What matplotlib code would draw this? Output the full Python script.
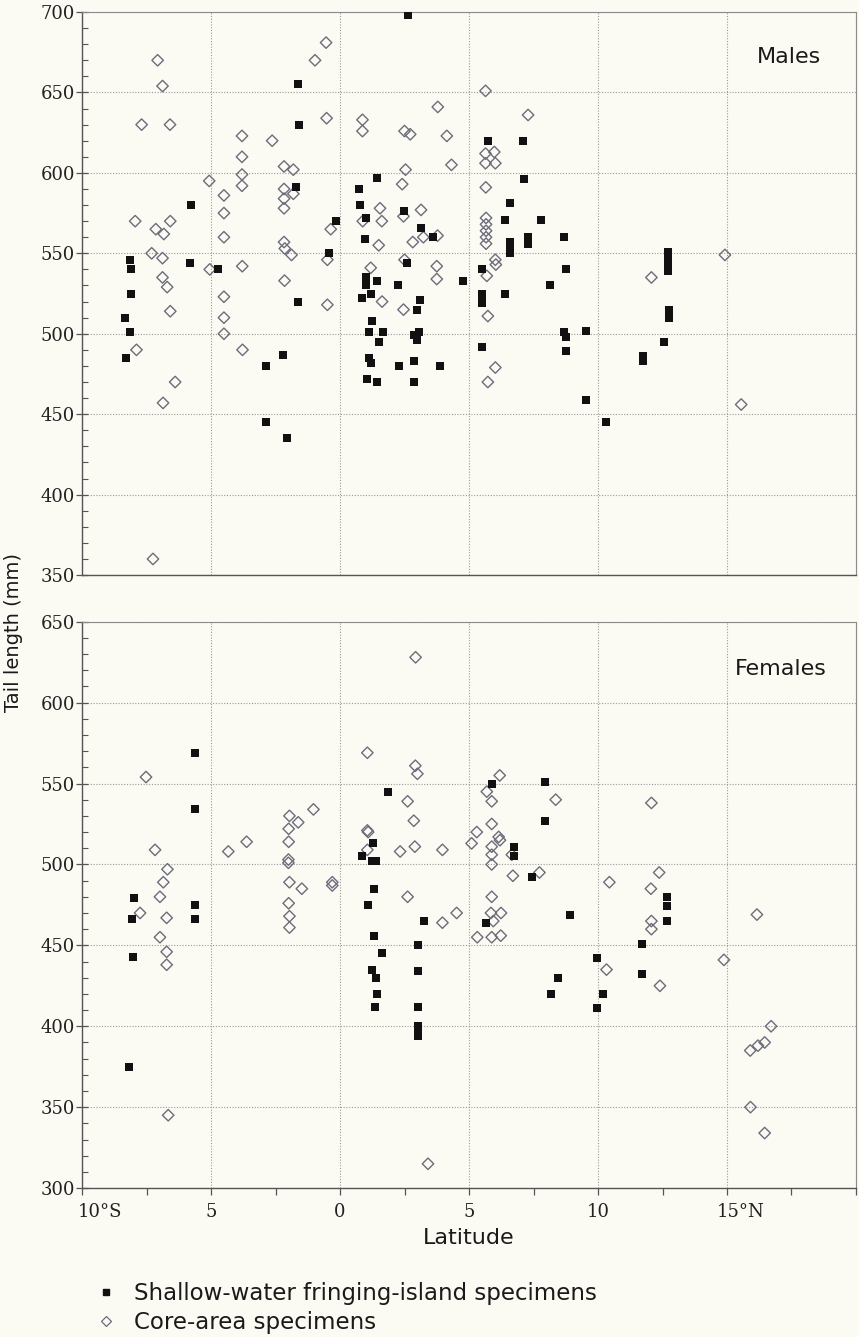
import matplotlib
matplotlib.use("Agg")
from matplotlib import pyplot as plt
from matplotlib.lines import Line2D
from matplotlib.ticker import MultipleLocator
from matplotlib.transforms import ScaledTranslation

plt.rcParams['font.family'] = ['DejaVu Serif']

# --- males: shallow-water fringing-island specimens
m_shallow_lat = [-8.15, -8.09, -8.09, -8.32, -8.15, -8.31,
                 -5.77, -5.8, -4.74, -2.85, -2.85, -2.05, -2.22,
                 -1.63, -1.6, -1.71, -1.63, -0.16, -0.41,
                 0.74, 0.76, 1.01, 0.97, 1.01, 1.01, 1.45, 1.42, 1.19, 0.84,
                 1.23, 1.14, 1.68, 1.5, 1.14, 1.19, 1.06, 1.42,
                 2.25, 2.48, 2.59, 2.63, 3.13, 3.11, 2.98, 2.85, 3.0, 3.05,
                 2.85, 2.28, 2.85, 3.62, 3.86,
                 4.76, 5.51, 5.51, 5.51, 5.51, 5.52, 5.73,
                 6.39, 6.39, 6.57, 6.6, 6.6, 6.6,
                 7.09, 7.12, 7.28, 7.28, 7.78,
                 8.69, 8.75, 8.15, 8.7, 8.75, 8.77,
                 9.55, 9.55, 10.31,
                 11.73, 11.73, 12.55, 12.72, 12.72, 12.72, 12.72, 12.75, 12.75]
m_shallow_tail = [546, 540, 525, 510, 501, 485,
                  580, 544, 540, 480, 445, 435, 487,
                  655, 630, 591, 520, 570, 550,
                  590, 580, 572, 559, 535, 530, 533, 597, 525, 522,
                  508, 501, 501, 495, 485, 482, 472, 470,
                  530, 576, 544, 698, 566, 521, 515, 499, 496, 501,
                  483, 480, 470, 560, 480,
                  533, 540, 525, 522, 519, 492, 620,
                  525, 571, 581, 557, 553, 550,
                  620, 596, 560, 556, 571,
                  560, 540, 530, 501, 498, 489,
                  502, 459, 445,
                  486, 483, 495, 551, 547, 543, 539, 515, 510]

# --- males: core-area specimens
m_core_lat = [-0.54, -0.97, -7.07, -6.88, -7.69, -6.59, -0.52, -3.8, -2.63, -3.8,
              -2.17, -1.81, -3.8, -3.8, -5.07, -4.5, -2.17, -1.81, -2.17, -2.17,
              -4.5, -7.94, -6.58, -7.14, -6.83, -4.5, -0.36, -2.17, -2.14, -1.88,
              -0.49, -7.3, -6.88, -5.05, -3.79, -6.88, -2.15, -6.7, -4.5, -0.49,
              -6.58, -4.5, -4.5, -7.89, -3.78, -6.39, -6.86, -7.25,
              5.64, 3.79, 7.29, 0.87, 0.87, 2.5, 2.72, 4.14, 5.64, 5.98,
              5.64, 6.02, 4.32, 2.54, 2.41, 5.65, 1.55, 3.14, 0.88, 1.62,
              2.46, 5.66, 5.66, 5.66, 5.66, 5.66, 1.5, 2.82, 3.23, 3.78,
              6.02, 6.04, 5.69, 1.19, 2.5, 3.75, 3.75, 1.63, 2.46, 5.73,
              6.02, 5.73,
              12.07, 14.92, 15.55]
m_core_tail = [681, 670, 670, 654, 630, 630, 634, 623, 620, 610,
               604, 602, 599, 592, 595, 586, 590, 587, 584, 578,
               575, 570, 570, 565, 562, 560, 565, 557, 553, 549,
               546, 550, 547, 540, 542, 535, 533, 529, 523, 518,
               514, 510, 500, 490, 490, 470, 457, 360,
               651, 641, 636, 633, 626, 626, 624, 623, 612, 613,
               606, 606, 605, 602, 593, 591, 578, 577, 570, 570,
               573, 572, 568, 564, 560, 556, 555, 557, 560, 561,
               546, 543, 536, 541, 546, 542, 534, 520, 515, 511,
               479, 470,
               535, 549, 456]

# --- females: shallow-water fringing-island specimens
f_shallow_lat = [-5.63, -5.62, -7.97, -5.62, -8.05, -5.62, -8.04, -8.17,
                 5.9, 7.93, 1.86, 7.93, 1.29, 0.85, 1.23, 1.4, 6.74, 6.74, 7.43,
                 1.31, 1.1,
                 3.26, 5.66, 8.9, 1.33, 3.01, 1.63, 1.23, 1.4, 3.02, 1.43, 1.36,
                 3.02, 3.02, 3.02, 3.02,
                 9.95, 8.44, 8.17, 10.19, 9.97,
                 12.69, 12.69, 12.69, 11.69, 11.69]
f_shallow_tail = [569, 534, 479, 475, 466, 466, 443, 375,
                  550, 551, 545, 527, 513, 505, 502, 502, 511, 505, 492,
                  485, 475,
                  465, 464, 469, 456, 450, 445, 435, 430, 434, 420, 412,
                  412, 400, 397, 394,
                  442, 430, 420, 420, 411,
                  480, 474, 465, 451, 432]

# --- females: core-area specimens
f_core_lat = [-7.52, -1.03, -1.96, -1.62, -1.99, -1.99, -3.62, -4.33, -7.17, -2.0,
              -2.0, -6.69, -6.85, -1.96, -1.48, -0.3, -0.3, -6.98, -1.99, -7.75,
              -6.72, -1.96, -1.96, -6.98, -6.72, -6.72, -6.66,
              2.93, 1.06, 2.92, 3.0, 6.19, 5.69, 5.88, 8.36, 2.62, 2.86,
              5.88, 1.06, 1.09, 5.3, 6.15, 6.2, 5.1, 2.9, 2.33, 3.97,
              5.88, 5.88, 5.88, 1.06, 6.7, 7.73, 6.66, 2.62, 5.88, 10.44,
              4.52, 3.97, 5.85, 5.94, 6.24, 5.32, 5.88, 6.23, 10.33, 3.41,
              12.07, 12.37, 12.05, 12.07, 12.07, 12.4, 16.16, 14.88, 16.71, 16.46,
              16.2, 15.9, 15.91, 16.46]
f_core_tail = [554, 534, 530, 526, 522, 514, 514, 508, 509, 503,
               501, 497, 489, 489, 485, 489, 487, 480, 476, 470,
               467, 468, 461, 455, 446, 438, 345,
               628, 569, 561, 556, 555, 545, 539, 540, 539, 527,
               525, 521, 520, 520, 517, 515, 513, 511, 508, 509,
               511, 506, 500, 509, 493, 495, 506, 480, 480, 489,
               470, 464, 470, 465, 470, 455, 455, 456, 435, 315,
               538, 495, 485, 465, 460, 425, 469, 441, 400, 390,
               388, 385, 350, 334]

paper = "#fbfbf3"
ink = "#111111"
diamond_edge = "#6c6c7c"
sans = ["DejaVu Sans"]
text_col = "#1a1a1a"

fig = plt.figure(figsize=(8.59, 13.37), dpi=100, facecolor=paper)
ax_m = fig.add_axes([0.0955, 0.5699, 0.901, 0.4211])
ax_f = fig.add_axes([0.0955, 0.1114, 0.901, 0.4236])


def setup(ax, ylo, yhi):
    ax.set_facecolor(paper)
    ax.set_xlim(-10, 20)
    ax.set_ylim(ylo, yhi)
    ax.xaxis.set_major_locator(MultipleLocator(5))
    ax.xaxis.set_minor_locator(MultipleLocator(2.5))
    ax.yaxis.set_major_locator(MultipleLocator(50))
    ax.yaxis.set_minor_locator(MultipleLocator(10))
    ax.grid(True, which="major", linestyle=(0, (1, 1.5)), color="#9a9a9a", linewidth=0.8)
    ax.set_axisbelow(True)
    ax.tick_params(axis="y", which="major", direction="inout", length=8, width=0.9,
                   color="#555555", labelsize=13, pad=1, labelcolor="#222222")
    ax.tick_params(axis="y", which="minor", direction="in", length=4, width=0.8, color="#555555")
    for side in ["left", "bottom"]:
        ax.spines[side].set_color("#555555")
        ax.spines[side].set_linewidth(1.0)
    for side in ["top", "right"]:
        ax.spines[side].set_color("#8a8a8a")
        ax.spines[side].set_linewidth(0.8)


setup(ax_m, 350, 700)
setup(ax_f, 300, 650)

ax_m.tick_params(axis="x", which="both", length=0, labelbottom=False)
ax_f.tick_params(axis="x", which="both", direction="out", length=5, width=0.9,
                 color="#555555", labelsize=13, pad=6, labelcolor="#222222")
ax_f.set_xticks([-10, -5, 0, 5, 10, 15, 20])
ax_f.set_xticklabels(["10°S", "5", "0", "5", "10", "15°N", ""])
# hemisphere labels start just left of their ticks
offsets = {"10°S": -0.04, "15°N": -0.10}
for lab in ax_f.get_xticklabels():
    if lab.get_text() in offsets:
        lab.set_horizontalalignment("left")
        lab.set_transform(lab.get_transform()
                          + ScaledTranslation(offsets[lab.get_text()], 0, fig.dpi_scale_trans))

for ax, sl, st, cl, ct in [(ax_m, m_shallow_lat, m_shallow_tail, m_core_lat, m_core_tail),
                           (ax_f, f_shallow_lat, f_shallow_tail, f_core_lat, f_core_tail)]:
    ax.scatter(cl, ct, marker="D", s=34, facecolors="none", edgecolors=diamond_edge,
               linewidths=1.0, zorder=2)
    ax.scatter(sl, st, marker="s", s=38, c=ink, linewidths=0, zorder=3)

ax_m.text(17.4, 672, "Males", family=sans, fontsize=16, color=text_col,
          ha="center", va="center")
ax_f.text(17.1, 621, "Females", family=sans, fontsize=16, color=text_col,
          ha="center", va="center")

ax_f.set_xlabel("Latitude", family=sans, fontsize=16, color=text_col, labelpad=5)
fig.text(0.016, 1 - 632 / 1337, "Tail length (mm)", rotation=90, family=sans,
         fontsize=14, color=text_col, ha="center", va="center")

handles = [Line2D([], [], marker="s", linestyle="none", markersize=5, color=ink),
           Line2D([], [], marker="D", linestyle="none", markersize=5,
                  markerfacecolor="none", markeredgecolor=diamond_edge, markeredgewidth=0.9)]
fig.legend(handles, ["Shallow-water fringing-island specimens", "Core-area specimens"],
           loc="upper left", bbox_to_anchor=(0.089, 1 - 1261 / 1337), frameon=False,
           prop={"family": sans, "size": 16.5}, handlelength=0.8, handletextpad=0.8,
           labelspacing=0.28, labelcolor=text_col)

fig.savefig("out.png", dpi=100, facecolor=paper)
